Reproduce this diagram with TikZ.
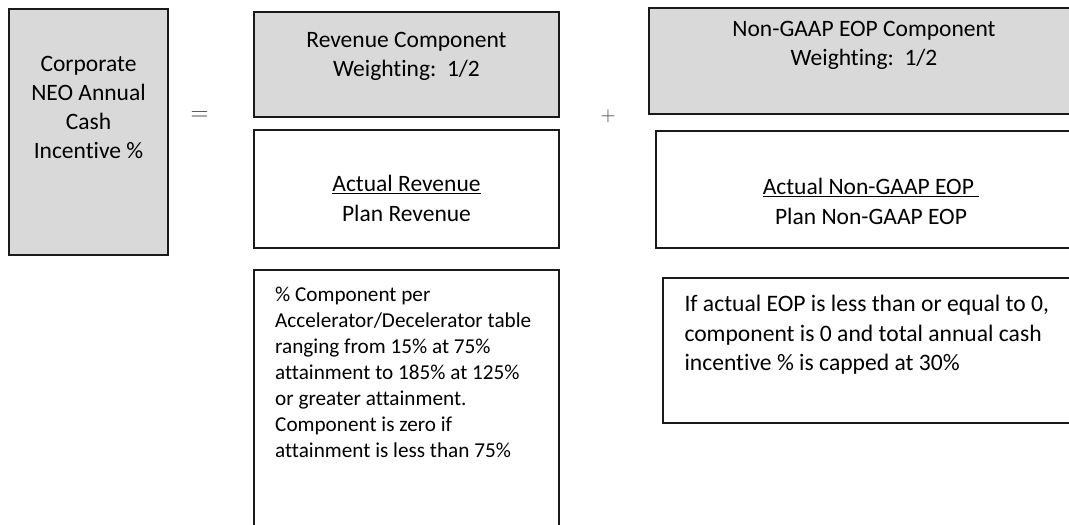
\documentclass[tikz,border=0pt]{standalone}
\usepackage{fontspec}
\setmainfont{Carlito}[Ligatures=CommonOff]
\definecolor{boxgray}{HTML}{D9D9D9}
\definecolor{edge}{HTML}{1A1A1A}
\tikzset{
  box/.style={draw=edge, line width=2pt, rectangle, inner sep=0pt, outer sep=0pt},
  graybox/.style={box, fill=boxgray},
  bigtext/.style={inner sep=0pt, anchor=north, align=center, font=\fontsize{23.5}{29}\selectfont},
  midtext/.style={inner sep=0pt, anchor=north, align=center, font=\fontsize{23.5}{29.5}\selectfont},
  smalltext/.style={inner sep=0pt, anchor=north west, align=left, font=\fontsize{21.2}{26}\selectfont},
  notetext/.style={inner sep=0pt, anchor=north west, align=left, font=\fontsize{23.6}{29.5}\selectfont},
  opsign/.style={inner sep=0pt, text=black!75}
}
\begin{document}
\begin{tikzpicture}[x=1pt,y=-1pt]
\useasboundingbox (0,0) rectangle (1069,525);
\clip (0,0) rectangle (1069,525);
% boxes
\node[graybox, minimum width=159pt, minimum height=246pt] (neo) at (88.5,132) {};
\node[graybox, minimum width=305pt, minimum height=105pt] (revtop) at (406.5,64.5) {};
\node[box, minimum width=305pt, minimum height=118pt] (revmid) at (406.5,189) {};
\node[box, minimum width=305pt, minimum height=290pt] (revbot) at (406.5,414.5) {};
\node[graybox, minimum width=431pt, minimum height=106pt] (ngtop) at (864.5,61) {};
\node[box, minimum width=430pt, minimum height=117pt] (ngmid) at (871,189.5) {};
\node[box, minimum width=430pt, minimum height=145.5pt] (ngbot) at (878,350.25) {};
% texts
\node[bigtext] (neotxt) at (88.5,50.7) {\strut Corporate\\NEO Annual\\Cash\\Incentive \%};
\node[bigtext] (revtoptxt) at (406.5,26.7) {\strut Revenue Component\\Weighting:\ \ 1/2};
\node[midtext] (revmidtxt) at (406.5,171) {\strut\underline{Actual Revenue}\\Plan Revenue};
\node[bigtext] (ngtoptxt) at (864,16.4) {\strut Non-GAAP EOP Component\\Weighting:\ \ 1/2};
\node[midtext] (ngmidtxt) at (871,174) {\strut\underline{Actual Non-GAAP EOP\ }\\Plan Non-GAAP EOP};
\node[smalltext] (revbottxt) at (275,283.5) {\strut\% Component per\\Accelerator/Decelerator table\\ranging from 15\% at 75\%\\attainment to 185\% at 125\%\\or greater attainment.\\Component is zero if\\attainment is less than 75\%};
\node[notetext] (ngbottxt) at (684.3,291) {\strut If actual EOP is less than or equal to 0,\\component is 0 and total annual cash\\incentive \% is capped at 30\%};
% operators
\node[opsign, font=\fontsize{23.5}{28}\selectfont] (eq) at (199.5,116.5) {$=$};
\node[opsign, font=\fontsize{21}{26}\selectfont] (plus) at (608,116) {$+$};
\end{tikzpicture}
\end{document}
